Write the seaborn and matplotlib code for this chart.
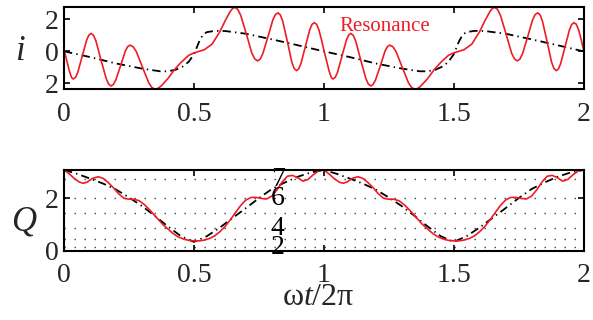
import numpy as np
import pandas as pd
import matplotlib
matplotlib.use("Agg")
import matplotlib.pyplot as plt
import seaborn as sns

# ---------------- data ----------------
# top panel: current i, resonance (red) and reference (black dash-dot)
i_res_x = [0.000, 0.010, 0.020, 0.028, 0.032, 0.036, 0.0445, 0.053, 0.070, 0.087,
           0.0955, 0.104, 0.1136, 0.123, 0.142, 0.162, 0.1714, 0.181, 0.190, 0.199,
           0.218, 0.236, 0.245, 0.254, 0.266, 0.278, 0.302, 0.326, 0.338, 0.350,
           0.362, 0.375, 0.400, 0.425, 0.450, 0.480, 0.500, 0.520, 0.540, 0.570,
           0.600, 0.620, 0.640, 0.649, 0.658, 0.669, 0.680, 0.702, 0.723, 0.734,
           0.745, 0.755, 0.765, 0.785, 0.804, 0.814, 0.824, 0.833, 0.842, 0.860,
           0.877, 0.886, 0.895, 0.9035, 0.912, 0.929, 0.946, 0.9545, 0.963, 0.972,
           0.981, 0.990,
           1.000, 1.010, 1.020, 1.028, 1.032, 1.036, 1.0445, 1.053, 1.070, 1.087,
           1.0955, 1.104, 1.1136, 1.123, 1.142, 1.162, 1.1714, 1.181, 1.190, 1.199,
           1.218, 1.236, 1.245, 1.254, 1.266, 1.278, 1.302, 1.326, 1.338, 1.350,
           1.362, 1.375, 1.400, 1.425, 1.450, 1.480, 1.500, 1.520, 1.540, 1.570,
           1.600, 1.620, 1.640, 1.649, 1.658, 1.669, 1.680, 1.702, 1.723, 1.734,
           1.745, 1.755, 1.765, 1.785, 1.804, 1.814, 1.824, 1.833, 1.842, 1.860,
           1.877, 1.886, 1.895, 1.9035, 1.912, 1.929, 1.946, 1.9545, 1.963, 1.972,
           1.981, 1.990, 2.000]
i_res_y = [0.10, -0.55, -1.20, -1.60, -1.70, -1.73, -1.62, -1.31, -0.31, 0.70,
           1.01, 1.12, 0.995, 0.64, -0.53, -1.69, -2.045, -2.17, -2.07, -1.80,
           -0.89, 0.02, 0.29, 0.39, 0.285, -0.01, -0.99, -1.97, -2.265, -2.37,
           -2.32, -2.15, -1.70, -1.15, -0.70, -0.25, -0.10, 0.00, 0.10, 0.45,
           1.23, 1.90, 2.50, 2.68, 2.75, 2.62, 2.26, 1.08, -0.11, -0.47,
           -0.60, -0.49, -0.16, 0.91, 1.97, 2.30, 2.41, 2.27, 1.88, 0.60,
           -0.68, -1.07, -1.21, -1.10, -0.77, 0.29, 1.35, 1.68, 1.79, 1.70,
           1.35, 0.80,
           0.10, -0.55, -1.20, -1.60, -1.70, -1.73, -1.62, -1.31, -0.31, 0.70,
           1.01, 1.12, 0.995, 0.64, -0.53, -1.69, -2.045, -2.17, -2.07, -1.80,
           -0.89, 0.02, 0.29, 0.39, 0.285, -0.01, -0.99, -1.97, -2.265, -2.37,
           -2.32, -2.15, -1.70, -1.15, -0.70, -0.25, -0.10, 0.00, 0.10, 0.45,
           1.23, 1.90, 2.50, 2.68, 2.75, 2.62, 2.26, 1.08, -0.11, -0.47,
           -0.60, -0.49, -0.16, 0.91, 1.97, 2.30, 2.41, 2.27, 1.88, 0.60,
           -0.68, -1.07, -1.21, -1.10, -0.77, 0.29, 1.35, 1.68, 1.79, 1.70,
           1.35, 0.80, 0.10]

i_ref_x = [0.00, 0.10, 0.20, 0.30, 0.37, 0.40, 0.43, 0.46, 0.48, 0.50,
           0.52, 0.535, 0.55, 0.58, 0.62, 0.70, 0.80, 0.90,
           1.00, 1.10, 1.20, 1.30, 1.37, 1.40, 1.43, 1.46, 1.48, 1.50,
           1.52, 1.535, 1.55, 1.58, 1.62, 1.70, 1.80, 1.90, 2.00]
i_ref_y = [0.00, -0.36, -0.76, -1.08, -1.25, -1.25, -1.15, -0.93, -0.65, -0.20,
           0.60, 1.05, 1.20, 1.28, 1.27, 1.10, 0.75, 0.38,
           0.00, -0.36, -0.76, -1.08, -1.25, -1.25, -1.15, -0.93, -0.65, -0.20,
           0.60, 1.05, 1.20, 1.28, 1.27, 1.10, 0.75, 0.38, 0.00]

# bottom panel: charge Q
q_res_x = [0.00, 0.02, 0.04, 0.06, 0.075, 0.09, 0.11, 0.132, 0.15, 0.17,
           0.19, 0.21, 0.23, 0.25, 0.27, 0.29, 0.31, 0.33, 0.357, 0.38,
           0.40, 0.42, 0.44, 0.46, 0.48, 0.50, 0.52, 0.54, 0.56, 0.58,
           0.60, 0.62, 0.64, 0.66, 0.68, 0.70, 0.72, 0.74, 0.76, 0.78,
           0.80, 0.82, 0.84, 0.86, 0.88, 0.90, 0.92, 0.94, 0.96, 0.98,
           1.00, 1.02, 1.04, 1.06, 1.075, 1.09, 1.11, 1.132, 1.15, 1.17,
           1.19, 1.21, 1.23, 1.25, 1.27, 1.29, 1.31, 1.33, 1.357, 1.38,
           1.40, 1.42, 1.44, 1.46, 1.48, 1.50, 1.52, 1.54, 1.56, 1.58,
           1.60, 1.62, 1.64, 1.66, 1.68, 1.70, 1.72, 1.74, 1.76, 1.78,
           1.80, 1.82, 1.84, 1.86, 1.88, 1.90, 1.92, 1.94, 1.96, 1.98, 2.00]
q_res_y = [3.08, 2.93, 2.75, 2.61, 2.57, 2.62, 2.76, 2.82, 2.76, 2.60,
           2.40, 2.17, 2.00, 1.96, 1.96, 1.90, 1.75, 1.55, 1.25, 1.00,
           0.82, 0.65, 0.52, 0.44, 0.39, 0.37, 0.37, 0.40, 0.46, 0.56,
           0.72, 0.92, 1.17, 1.45, 1.72, 1.93, 2.03, 2.03, 1.99, 1.97,
           2.08, 2.32, 2.62, 2.84, 2.87, 2.78, 2.65, 2.72, 2.90, 3.04,
           3.08, 2.93, 2.75, 2.61, 2.57, 2.62, 2.76, 2.82, 2.76, 2.60,
           2.40, 2.17, 2.00, 1.96, 1.96, 1.90, 1.75, 1.55, 1.25, 1.00,
           0.82, 0.65, 0.52, 0.44, 0.39, 0.37, 0.37, 0.40, 0.46, 0.56,
           0.72, 0.92, 1.17, 1.45, 1.72, 1.93, 2.03, 2.03, 1.99, 1.97,
           2.08, 2.32, 2.62, 2.84, 2.87, 2.78, 2.65, 2.72, 2.90, 3.04, 3.08]

q_ref_x = [0.00, 0.05, 0.10, 0.15, 0.20, 0.25, 0.30, 0.35, 0.40, 0.45,
           0.50, 0.55, 0.60, 0.65, 0.70, 0.75, 0.80, 0.85, 0.90, 0.95,
           1.00, 1.05, 1.10, 1.15, 1.20, 1.25, 1.30, 1.35, 1.40, 1.45,
           1.50, 1.55, 1.60, 1.65, 1.70, 1.75, 1.80, 1.85, 1.90, 1.95, 2.00]
q_ref_y = [3.08, 2.93, 2.75, 2.56, 2.33, 2.03, 1.70, 1.32, 0.92, 0.55,
           0.33, 0.55, 0.88, 1.25, 1.62, 2.00, 2.35, 2.60, 2.82, 2.98,
           3.08, 2.93, 2.75, 2.56, 2.33, 2.03, 1.70, 1.32, 0.92, 0.55,
           0.33, 0.55, 0.88, 1.25, 1.62, 2.00, 2.35, 2.60, 2.82, 2.98, 3.08]

# dotted level lines in the Q panel and their labels
q_levels = [2.72, 2.00, 1.43, 0.855, 0.45, 0.13]
q_level_labels = {2.72: "7", 2.00: "6", 0.855: "4", 0.13: "2"}

x_ticks = [0, 0.5, 1, 1.5, 2]
x_ticklabels = ["0", "0.5", "1", "1.5", "2"]
i_ticks = [-2, 0, 2]
i_ticklabels = ["2", "0", "2"]
q_ticks = [0, 2]
q_ticklabels = ["0", "2"]

# ---------------- style ----------------
sns.set_style("ticks")
plt.rcParams["font.family"] = ["Liberation Serif", "DejaVu Serif"]
plt.rcParams["mathtext.fontset"] = "custom"
plt.rcParams["mathtext.rm"] = "Liberation Serif"
plt.rcParams["mathtext.it"] = "Liberation Serif:italic"
plt.rcParams["lines.scale_dashes"] = False

RED = "#ee1c25"
DASHDOT = (0, (6, 3, 1, 3))
TICK_FS = 20

fig = plt.figure(figsize=(5.93, 3.2), dpi=100)
ax1 = fig.add_axes([0.108, 0.721, 0.876, 0.258])
ax2 = fig.add_axes([0.108, 0.217, 0.876, 0.252])

df_i_ref = pd.DataFrame({"x": i_ref_x, "y": i_ref_y})
df_i_res = pd.DataFrame({"x": i_res_x, "y": i_res_y})
df_q_ref = pd.DataFrame({"x": q_ref_x, "y": q_ref_y})
df_q_res = pd.DataFrame({"x": q_res_x, "y": q_res_y})

sns.lineplot(data=df_i_ref, x="x", y="y", ax=ax1, color="black", lw=1.3,
             linestyle=DASHDOT, sort=False, estimator=None)
sns.lineplot(data=df_i_res, x="x", y="y", ax=ax1, color=RED, lw=1.2,
             sort=False, estimator=None)

for lv in q_levels:
    ax2.axhline(lv, color="0.25", lw=1.0, linestyle=(0, (1, 6.2)), zorder=0.5)
sns.lineplot(data=df_q_ref, x="x", y="y", ax=ax2, color="black", lw=1.3,
             linestyle=DASHDOT, sort=False, estimator=None)
sns.lineplot(data=df_q_res, x="x", y="y", ax=ax2, color=RED, lw=1.2,
             sort=False, estimator=None)
for lv, lab in q_level_labels.items():
    ax2.text(0.823, lv, lab, fontsize=TICK_FS, ha="center", va="center",
             color="black", zorder=5)

ax1.text(1.235, 1.58, "Resonance", color=RED, fontsize=15,
         ha="center", va="center")

# axes cosmetics
ax1.set_xlim(0, 2)
ax1.set_ylim(-2.375, 2.79)
ax2.set_xlim(0, 2)
ax2.set_ylim(0, 3.08)

for ax in (ax1, ax2):
    ax.set_xticks(x_ticks)
    ax.set_xticklabels(x_ticklabels)
    ax.tick_params(direction="in", length=4.5, width=1.2, top=True, right=True,
                   labelsize=TICK_FS, color="black")
    ax.tick_params(axis="x", pad=9)
    ax.tick_params(axis="y", pad=4)
    for s in ax.spines.values():
        s.set_linewidth(1.5)
        s.set_color("black")
    ax.set_xlabel("")
    ax.set_ylabel("")

ax1.set_yticks(i_ticks)
ax1.set_yticklabels(i_ticklabels)
ax2.set_yticks(q_ticks)
ax2.set_yticklabels(q_ticklabels)

ax1.set_ylabel(r"$i$", fontsize=25, rotation=0, va="center", ha="center")
ax1.yaxis.set_label_coords(-0.085, 0.46)
ax2.set_ylabel(r"$Q$", fontsize=25, rotation=0, va="center", ha="center")
ax2.yaxis.set_label_coords(-0.077, 0.35)
ax2.set_xlabel(r"ω$t$/2π", fontsize=23, va="center", ha="center")
ax2.xaxis.set_label_coords(0.49, -0.586)

fig.savefig("out.png", dpi=100)
